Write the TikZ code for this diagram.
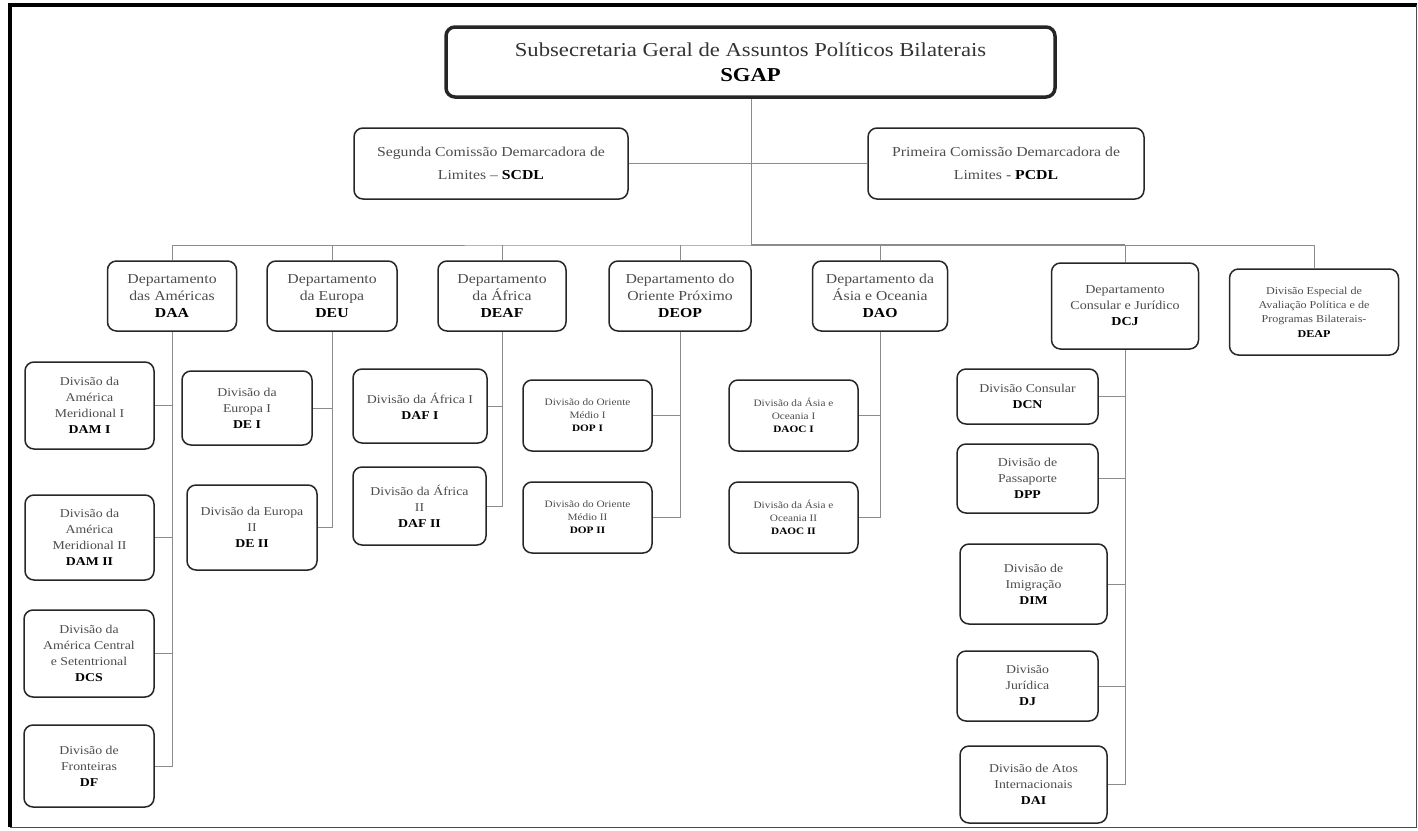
\documentclass[tikz,border=0pt]{standalone}
\usepackage{fontspec}
\setmainfont{Liberation Serif}[FakeStretch=1.15]

\newcommand{\acr}[1]{\textbf{\color{black}#1}}

\tikzset{
  unit/.style={
    draw=black!85,
    line width=1.5pt,
    rounded corners=9pt,
    align=center,
    inner sep=2pt,
    text=black!70
  },
  dept/.style={unit, font=\fontsize{13.7}{17}\selectfont},
  divi/.style={unit, font=\fontsize{12}{16}\selectfont},
  smalldivi/.style={unit, font=\fontsize{9.8}{13}\selectfont},
  link/.style={draw=black!45, line width=0.9pt}
}

\begin{document}
\begin{tikzpicture}[x=1pt, y=-1pt]
  \useasboundingbox (0,0) rectangle (1418,830);

  \draw[line width=4pt, black] (10,827) -- (10,5) -- (1416.5,5);
  \draw[line width=1.5pt, black!70] (10,827.5) -- (1416.5,827.5) -- (1416.5,5);

  \node[unit, line width=3.5pt, text=black!80,
        font=\fontsize{19.7}{25}\selectfont,
        minimum width=609pt, minimum height=70pt] (sgap) at (750.5,62)
    {Subsecretaria Geral de Assuntos Políticos Bilaterais\\\acr{SGAP}};

  \node[unit, font=\fontsize{13.7}{23}\selectfont,
        minimum width=274pt, minimum height=71pt] (scdl) at (491,163.5)
    {Segunda Comissão Demarcadora de\\Limites – \acr{SCDL}};
  \node[unit, font=\fontsize{13.7}{23}\selectfont,
        minimum width=276pt, minimum height=71pt] (pcdl) at (1006,163.5)
    {Primeira Comissão Demarcadora de\\Limites - \acr{PCDL}};

  \node[dept, minimum width=129pt, minimum height=70pt] (daa) at (172,296)
    {Departamento\\das Américas\\\acr{DAA}};
  \node[dept, minimum width=130pt, minimum height=70pt] (deu) at (332,296)
    {Departamento\\da Europa\\\acr{DEU}};
  \node[dept, minimum width=128pt, minimum height=70pt] (deaf) at (502,296)
    {Departamento\\da África\\\acr{DEAF}};
  \node[dept, minimum width=142pt, minimum height=70pt] (deop) at (680,296)
    {Departamento do\\Oriente Próximo\\\acr{DEOP}};
  \node[dept, minimum width=135pt, minimum height=70pt] (dao) at (880,296)
    {Departamento da\\Ásia e Oceania\\\acr{DAO}};
  \node[unit, font=\fontsize{12.2}{16}\selectfont,
        minimum width=147pt, minimum height=86pt] (dcj) at (1125,306)
    {Departamento\\Consular e Jurídico\\\acr{DCJ}};
  \node[unit, font=\fontsize{10.5}{14.3}\selectfont,
        minimum width=169pt, minimum height=86pt] (deap) at (1314,312)
    {Divisão Especial de\\Avaliação Política e de\\Programas Bilaterais-\\\acr{DEAP}};

  \node[divi, minimum width=129pt, minimum height=87pt] (dam1) at (89.5,405.5)
    {Divisão da\\América\\Meridional I\\\acr{DAM I}};
  \node[divi, minimum width=129pt, minimum height=85pt] (dam2) at (89.5,537.5)
    {Divisão da\\América\\Meridional II\\\acr{DAM II}};
  \node[divi, minimum width=130pt, minimum height=87pt] (dcs) at (89,653.5)
    {Divisão da\\América Central\\e Setentrional\\\acr{DCS}};
  \node[divi, minimum width=130pt, minimum height=82pt] (df) at (89,766)
    {Divisão de\\Fronteiras\\\acr{DF}};

  \node[divi, minimum width=130pt, minimum height=74pt] (de1) at (247,408)
    {Divisão da\\Europa I\\\acr{DE I}};
  \node[divi, minimum width=130pt, minimum height=85pt] (de2) at (252,527.5)
    {Divisão da Europa\\II\\\acr{DE II}};

  \node[divi, minimum width=134pt, minimum height=74pt] (daf1) at (420,406)
    {Divisão da África I\\\acr{DAF I}};
  \node[divi, minimum width=133pt, minimum height=78pt] (daf2) at (419.5,506)
    {Divisão da África\\II\\\acr{DAF II}};

  \node[smalldivi, minimum width=129pt, minimum height=71pt] (dop1) at (587.5,415.5)
    {Divisão do Oriente\\Médio I\\\acr{DOP I}};
  \node[smalldivi, minimum width=129pt, minimum height=71pt] (dop2) at (587.5,517.5)
    {Divisão do Oriente\\Médio II\\\acr{DOP II}};

  \node[smalldivi, minimum width=129pt, minimum height=71pt] (daoc1) at (793.5,415.5)
    {Divisão da Ásia e\\Oceania I\\\acr{DAOC I}};
  \node[smalldivi, minimum width=129pt, minimum height=71pt] (daoc2) at (793.5,517.5)
    {Divisão da Ásia e\\Oceania II\\\acr{DAOC II}};

  \node[divi, minimum width=141pt, minimum height=55pt] (dcn) at (1027.5,396.5)
    {Divisão Consular\\\acr{DCN}};
  \node[divi, minimum width=141pt, minimum height=69pt] (dpp) at (1027.5,478.5)
    {Divisão de\\Passaporte\\\acr{DPP}};
  \node[divi, minimum width=147pt, minimum height=80pt] (dim) at (1033.5,584)
    {Divisão de\\Imigração\\\acr{DIM}};
  \node[divi, minimum width=141pt, minimum height=70pt] (dj) at (1027.5,686)
    {Divisão\\Jurídica\\\acr{DJ}};
  \node[divi, minimum width=147pt, minimum height=77pt] (dai) at (1033.5,784.5)
    {Divisão de Atos\\Internacionais\\\acr{DAI}};

  \coordinate (hub) at (751,245);

  \draw[link] (hub |- sgap.south) -- (hub);
  \draw[link] (scdl.east) -- (pcdl.west);
  \draw[link] (daa.north) |- (hub) -| (deap.north);
  \draw[link, line width=1.8pt] (hub) -- (hub -| dcj.north);
  \foreach \d in {deu,deaf,deop,dao,dcj}
    \draw[link] (\d.north) -- (\d.north |- hub);

  \draw[link] (daa.south) |- (df.east);
  \foreach \d in {dam1,dam2,dcs}
    \draw[link] (\d.east) -- (\d.east -| daa.south);
  \draw[link] (deu.south) |- (de2.east);
  \draw[link] (de1.east) -- (de1.east -| deu.south);
  \draw[link] (deaf.south) |- (daf2.east);
  \draw[link] (daf1.east) -- (daf1.east -| deaf.south);
  \draw[link] (deop.south) |- (dop2.east);
  \draw[link] (dop1.east) -- (dop1.east -| deop.south);
  \draw[link] (dao.south) |- (daoc2.east);
  \draw[link] (daoc1.east) -- (daoc1.east -| dao.south);
  \draw[link] (dcj.south) |- (dai.east);
  \foreach \d in {dcn,dpp,dim,dj}
    \draw[link] (\d.east) -- (\d.east -| dcj.south);
\end{tikzpicture}
\end{document}
